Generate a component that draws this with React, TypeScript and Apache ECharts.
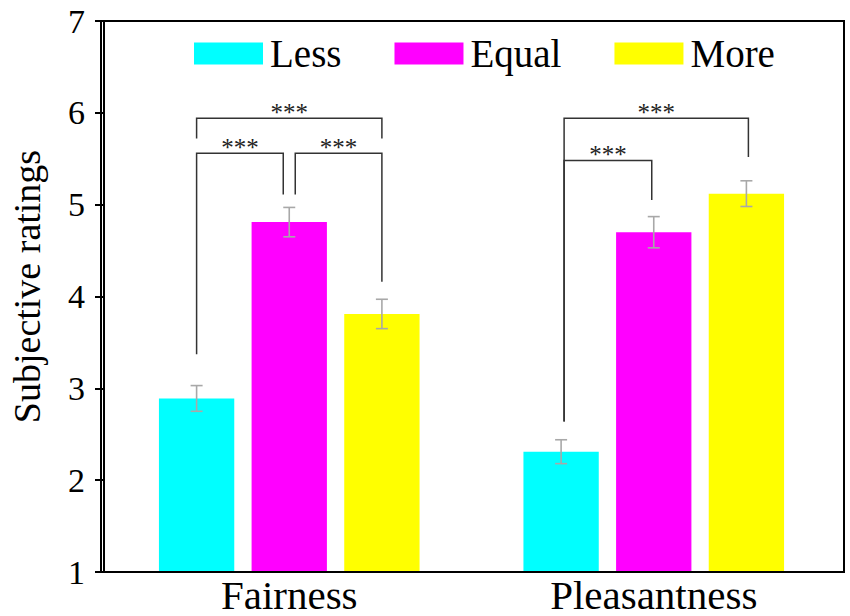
import React, { useEffect, useRef } from "react";
import * as echarts from "echarts";

const categories = ["Fairness", "Pleasantness"];
const groups = ["Less", "Equal", "More"];
const groupColors = ["#00FFFF", "#FF00FF", "#FFFF00"];

const lessValues = [2.89, 2.31];
const equalValues = [4.81, 4.7];
const moreValues = [3.81, 5.12];

const lessErrors = [0.14, 0.13];
const equalErrors = [0.16, 0.17];
const moreErrors = [0.16, 0.14];

const yMin = 1;
const yMax = 7;
const yStep = 1;

// significance brackets
const bracketCategory = [0, 0, 0, 1, 1];
const bracketFrom = [0, 0, 1, 0, 0];
const bracketTo = [2, 1, 2, 2, 1];
const bracketLevel = [5.94, 5.56, 5.56, 5.94, 5.48];
const bracketFromEnd = [5.72, 3.37, 5.11, 2.64, 2.64];
const bracketToEnd = [5.72, 5.11, 4.16, 5.52, 5.05];
const bracketLabels = ["***", "***", "***", "***", "***"];

const SERIF = "'Liberation Serif', 'Times New Roman', serif";
const CAT_GAP = 0.285;
const BAR_GAP = 0.23;

// layout
const GRID = { left: 104, right: 14, top: 21, bottom: 44 };
const FRAME = { x: 101, y: 21, width: 743, height: 551 };

function barGeometry(api: any, group: number) {
  const band = api.size([1, 0])[0];
  const n = groups.length;
  const bw = (band * (1 - CAT_GAP)) / (n + (n - 1) * BAR_GAP);
  const offset = (group - (n - 1) / 2) * bw * (1 + BAR_GAP);
  return { bw, offset };
}

export default function App() {
  const ref = useRef<HTMLDivElement>(null);

  useEffect(() => {
    if (!ref.current) return;
    const chart = echarts.init(ref.current, null, { renderer: "svg" });

    const valueSets = [lessValues, equalValues, moreValues];
    const errorSets = [lessErrors, equalErrors, moreErrors];

    const errorData: number[][] = [];
    valueSets.forEach((vals, g) => {
      vals.forEach((v, c) => {
        errorData.push([c, g, v - errorSets[g][c], v + errorSets[g][c]]);
      });
    });

    const bracketData = bracketCategory.map((c, i) => [
      c,
      bracketFrom[i],
      bracketTo[i],
      bracketLevel[i],
      bracketFromEnd[i],
      bracketToEnd[i],
      i,
    ]);
    // small horizontal nudges (px) so adjacent bracket legs don't overlap
    const legNudge = [
      [0, 0],
      [0, -6],
      [6, 0],
      [3, 2],
      [3, -2],
    ];

    const barSeries = groups.map((name, g) => ({
      name,
      type: "bar",
      data: valueSets[g],
      barGap: BAR_GAP * 100 + "%",
      barCategoryGap: CAT_GAP * 100 + "%",
      itemStyle: { color: groupColors[g] },
      z: 2,
    }));

    chart.setOption({
      animation: false,
      grid: { ...GRID, show: false },
      graphic: [
        {
          type: "rect",
          shape: { ...FRAME },
          style: { fill: "none", stroke: "#000", lineWidth: 2 },
          z: 100,
          silent: true,
        },
      ],
      legend: {
        data: groups.map((name, g) => ({ name, itemStyle: { color: groupColors[g] } })),
        icon: "rect",
        left: 194,
        top: 34,
        padding: 0,
        itemWidth: 69,
        itemHeight: 22,
        itemGap: 53,
        textStyle: { fontFamily: SERIF, fontSize: 39, color: "#000", padding: [0, 0, 0, 2] },
        selectedMode: false,
      },
      xAxis: {
        type: "category",
        data: categories,
        axisLine: { show: false },
        axisTick: { show: false },
        axisLabel: { fontFamily: SERIF, fontSize: 41, color: "#000", margin: 2 },
        splitLine: { show: false },
      },
      yAxis: {
        type: "value",
        min: yMin,
        max: yMax,
        interval: yStep,
        offset: 3,
        name: "Subjective ratings",
        nameLocation: "middle",
        nameGap: 58,
        nameTextStyle: { fontFamily: SERIF, fontSize: 38, color: "#000", padding: [0, 0, 0, 20] },
        axisLine: { show: true, lineStyle: { color: "#000", width: 2 } },
        axisTick: { show: true, inside: false, length: 9, lineStyle: { color: "#000", width: 2 } },
        axisLabel: { fontFamily: SERIF, fontSize: 34, color: "#000", margin: 19 },
        splitLine: { show: false },
      },
      series: [
        ...barSeries,
        {
          type: "custom",
          name: "errors",
          data: errorData,
          encode: { x: 0, y: [2, 3] },
          z: 5,
          renderItem: (params: any, api: any) => {
            const c = api.value(0);
            const g = api.value(1);
            const { offset } = barGeometry(api, g);
            const lo = api.coord([c, api.value(2)]);
            const hi = api.coord([c, api.value(3)]);
            const x = lo[0] + offset;
            const cap = 6;
            const style = { stroke: "#A8A8A8", lineWidth: 1.6, fill: "none" };
            return {
              type: "group",
              children: [
                { type: "line", shape: { x1: x, y1: lo[1], x2: x, y2: hi[1] }, style },
                { type: "line", shape: { x1: x - cap, y1: hi[1], x2: x + cap, y2: hi[1] }, style },
                { type: "line", shape: { x1: x - cap, y1: lo[1], x2: x + cap, y2: lo[1] }, style },
              ],
            };
          },
        },
        {
          type: "custom",
          name: "brackets",
          data: bracketData,
          encode: { x: 0, y: 3 },
          z: 6,
          renderItem: (params: any, api: any) => {
            const c = api.value(0);
            const gFrom = api.value(1);
            const gTo = api.value(2);
            const idx = api.value(6);
            const a = barGeometry(api, gFrom);
            const b = barGeometry(api, gTo);
            const top = api.coord([c, api.value(3)]);
            const endA = api.coord([c, api.value(4)]);
            const endB = api.coord([c, api.value(5)]);
            const xA = top[0] + a.offset + legNudge[idx][0];
            const xB = top[0] + b.offset + legNudge[idx][1];
            const style = { stroke: "#333", lineWidth: 1.5, fill: "none" };
            return {
              type: "group",
              children: [
                {
                  type: "polyline",
                  shape: {
                    points: [
                      [xA, endA[1]],
                      [xA, top[1]],
                      [xB, top[1]],
                      [xB, endB[1]],
                    ],
                  },
                  style,
                },
                {
                  type: "text",
                  style: {
                    text: bracketLabels[idx],
                    x: (xA + xB) / 2,
                    y: top[1] - 6,
                    align: "center",
                    verticalAlign: "middle",
                    fontFamily: SERIF,
                    fontSize: 25,
                    fill: "#222",
                  },
                },
              ],
            };
          },
        },
      ],
    });

    return () => chart.dispose();
  }, []);

  return (
    <div
      ref={ref}
      style={{ position: "fixed", left: 0, top: 0, width: 850, height: 616, background: "#fff" }}
    />
  );
}
